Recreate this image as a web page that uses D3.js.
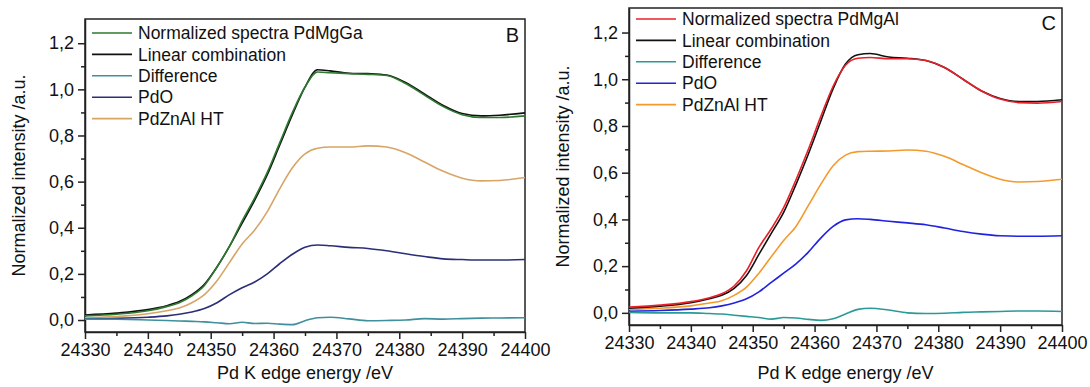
<!DOCTYPE html>
<html>
<head>
<meta charset="utf-8">
<script src="https://cdn.jsdelivr.net/npm/d3@7"></script>
<style>
  body { margin: 0; background: #fff; }
  svg text { font-family: "Liberation Sans", Arial, sans-serif; fill: #111; }
</style>
</head>
<body>
<div id="graphic"></div>
<script>
// energy grid shared by all curves (eV)
let energy = [24330, 24335, 24340, 24343, 24345, 24347, 24349, 24351, 24353, 24355, 24357, 24359, 24361,
  24363, 24365, 24367, 24369, 24372, 24375, 24378, 24381, 24384, 24387, 24390, 24393, 24396, 24400];

// panel B
let normPdMgGa = [0.018, 0.025, 0.040, 0.058, 0.075, 0.105, 0.150, 0.230, 0.320, 0.430, 0.530, 0.640, 0.770,
  0.900, 1.010, 1.075, 1.072, 1.068, 1.065, 1.060, 1.025, 0.975, 0.925, 0.890, 0.878, 0.878, 0.885];
let linCombB = [0.022, 0.030, 0.045, 0.062, 0.080, 0.110, 0.155, 0.230, 0.320, 0.420, 0.520, 0.630, 0.760,
  0.890, 1.010, 1.085, 1.080, 1.070, 1.068, 1.062, 1.030, 0.980, 0.930, 0.895, 0.885, 0.888, 0.898];
let diffB = [0.004, 0.003, 0.000, -0.002, -0.004, -0.006, -0.008, -0.012, -0.016, -0.010, -0.015, -0.014, -0.018,
  -0.020, -0.003, 0.010, 0.012, 0.005, -0.003, -0.002, 0.000, 0.006, 0.004, 0.006, 0.008, 0.009, 0.010];
let pdoB = [0.005, 0.007, 0.012, 0.018, 0.025, 0.035, 0.050, 0.075, 0.110, 0.140, 0.165, 0.200, 0.245,
  0.285, 0.315, 0.325, 0.322, 0.315, 0.310, 0.300, 0.287, 0.275, 0.265, 0.262, 0.260, 0.260, 0.262];
let pdZnAlB = [0.010, 0.015, 0.027, 0.040, 0.052, 0.075, 0.110, 0.170, 0.250, 0.330, 0.390, 0.470, 0.570,
  0.660, 0.720, 0.745, 0.750, 0.750, 0.755, 0.750, 0.725, 0.685, 0.645, 0.615, 0.603, 0.605, 0.618];

// panel C
let normPdMgAl = [0.025, 0.033, 0.048, 0.065, 0.082, 0.115, 0.180, 0.280, 0.360, 0.450, 0.570, 0.700, 0.840,
  0.970, 1.060, 1.090, 1.093, 1.088, 1.088, 1.080, 1.050, 1.000, 0.950, 0.915, 0.900, 0.898, 0.905];
let linCombC = [0.020, 0.028, 0.043, 0.060, 0.075, 0.105, 0.160, 0.250, 0.340, 0.430, 0.550, 0.680, 0.820,
  0.960, 1.065, 1.105, 1.110, 1.095, 1.090, 1.080, 1.050, 1.000, 0.950, 0.918, 0.905, 0.905, 0.912];
let diffC = [0.002, 0.000, 0.000, -0.003, -0.005, -0.010, -0.015, -0.020, -0.027, -0.020, -0.022, -0.028, -0.032,
  -0.025, -0.005, 0.015, 0.020, 0.012, 0.000, -0.003, -0.002, 0.002, 0.004, 0.006, 0.008, 0.008, 0.006];
let pdoC = [0.007, 0.010, 0.016, 0.022, 0.030, 0.042, 0.060, 0.090, 0.130, 0.170, 0.210, 0.260, 0.320,
  0.370, 0.398, 0.403, 0.400, 0.392, 0.385, 0.377, 0.363, 0.348, 0.337, 0.330, 0.328, 0.328, 0.330];
let pdZnAlC = [0.015, 0.020, 0.030, 0.042, 0.052, 0.075, 0.110, 0.170, 0.240, 0.310, 0.370, 0.460, 0.550,
  0.630, 0.675, 0.690, 0.692, 0.693, 0.697, 0.692, 0.670, 0.635, 0.600, 0.572, 0.560, 0.562, 0.572];

let xTicks = [24330, 24340, 24350, 24360, 24370, 24380, 24390, 24400];
let yTicks = [0, 0.2, 0.4, 0.6, 0.8, 1.0, 1.2];
let yTickLabels = ["0,0", "0,2", "0,4", "0,6", "0,8", "1,0", "1,2"];
let legendB = ["Normalized spectra PdMgGa", "Linear combination", "Difference", "PdO", "PdZnAl HT"];
let legendC = ["Normalized spectra PdMgAl", "Linear combination", "Difference", "PdO", "PdZnAl HT"];

let svg = d3.select("#graphic")
  .append("svg")
    .attr("width", 1090)
    .attr("height", 387);

function drawPanel(p) {
  let x = d3.scaleLinear().domain([24330, 24400]).range([p.left, p.right]);
  let y = d3.scaleLinear().domain([-0.052, 1.305]).range([p.bottom, p.top]);
  let g = svg.append("g");

  // minor ticks
  let minorX = d3.range(24335, 24400, 10);
  g.append("g")
    .attr("transform", "translate(0," + p.bottom + ")")
    .call(d3.axisBottom(x).tickValues(minorX).tickSize(4).tickFormat(""))
    .call(a => a.select(".domain").remove());
  let minorY = d3.range(0.1, 1.3, 0.2);
  g.append("g")
    .attr("transform", "translate(" + p.left + ",0)")
    .call(d3.axisLeft(y).tickValues(minorY).tickSize(4).tickFormat(""))
    .call(a => a.select(".domain").remove());

  // main axes
  let xa = g.append("g")
    .attr("transform", "translate(0," + p.bottom + ")")
    .call(d3.axisBottom(x).tickValues(xTicks).tickSize(7).tickSizeOuter(0).tickPadding(4)
      .tickFormat(d3.format("d")));
  xa.selectAll("text").style("font-size", "18px");
  let ya = g.append("g")
    .attr("transform", "translate(" + p.left + ",0)")
    .call(d3.axisLeft(y).tickValues(yTicks).tickSize(7).tickSizeOuter(0).tickPadding(4)
      .tickFormat((d, i) => yTickLabels[i]));
  ya.selectAll("text").style("font-size", "18px");
  g.selectAll(".domain, .tick line").attr("stroke", "#222").attr("stroke-width", 1.5);

  // frame
  g.append("rect")
    .attr("x", p.left).attr("y", p.top)
    .attr("width", p.right - p.left).attr("height", p.bottom - p.top)
    .attr("fill", "none").attr("stroke", "#222").attr("stroke-width", 1.5);

  // curves
  let line = d3.line()
    .x((d, i) => x(energy[i]))
    .y(d => y(d))
    .curve(d3.curveMonotoneX);
  // draw order: components first, then spectrum/fit
  [4, 3, 2, 1, 0].forEach(k => {
    g.append("path")
      .datum(p.series[k])
      .attr("fill", "none")
      .attr("stroke", p.colors[k])
      .attr("stroke-width", 1.6)
      .attr("d", line);
  });

  // legend
  p.legend.forEach((name, i) => {
    let ly = p.legendY + i * 21.4;
    g.append("line")
      .attr("x1", p.legendX).attr("x2", p.legendX + 40)
      .attr("y1", ly).attr("y2", ly)
      .attr("stroke", p.colors[i]).attr("stroke-width", 1.6);
    g.append("text")
      .attr("x", p.legendX + 46).attr("y", ly)
      .attr("dy", "0.35em")
      .style("font-size", "17.5px")
      .text(name);
  });

  g.append("text")
    .attr("x", p.right - 6).attr("y", p.top + p.letterDy)
    .attr("dy", "0.35em")
    .attr("text-anchor", "end")
    .style("font-size", "20px")
    .text(p.letter);

  // axis titles
  g.append("text")
    .attr("x", (p.left + p.right) / 2).attr("y", 379)
    .attr("text-anchor", "middle")
    .style("font-size", "18px")
    .text("Pd K edge energy /eV");
  g.append("text")
    .attr("transform", "translate(" + (p.left - 60) + "," + ((p.top + p.bottom) / 2) + ") rotate(-90)")
    .attr("text-anchor", "middle")
    .style("font-size", "18px")
    .text("Normalized intensity /a.u.");
}

drawPanel({
  left: 85, right: 525, top: 19, bottom: 332,
  series: [normPdMgGa, linCombB, diffB, pdoB, pdZnAlB],
  colors: ["#2d7a30", "#111111", "#3f8f9c", "#2a2f78", "#d6a567"],
  legend: legendB, legendX: 92, legendY: 33, letter: "B", letterDy: 16
});
drawPanel({
  left: 629, right: 1062, top: 8, bottom: 325,
  series: [normPdMgAl, linCombC, diffC, pdoC, pdZnAlC],
  colors: ["#e8202a", "#111111", "#2a9a96", "#1f22e0", "#f49a2c"],
  legend: legendC, legendX: 636, legendY: 19, letter: "C", letterDy: 15
});
</script>
</body>
</html>
